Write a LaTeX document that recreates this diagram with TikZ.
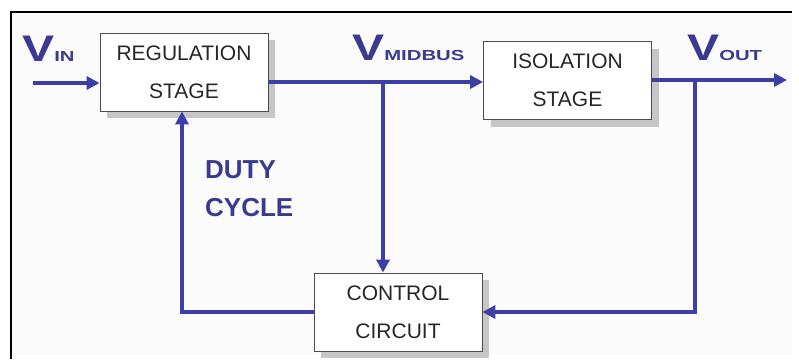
\documentclass[tikz,border=0pt]{standalone}
\usepackage{fontspec}
\setmainfont{Liberation Sans}
\usetikzlibrary{arrows.meta,shadows}

\definecolor{sigblue}{RGB}{62,62,168}
\definecolor{lblblue}{RGB}{58,58,145}
\newcommand{\sig}[1]{\scalebox{1.3}[1]{\fontsize{37}{37}\selectfont\bfseries V}\scalebox{1.4}[1]{\fontsize{14.5}{14.5}\selectfont\bfseries #1}}

\tikzset{
  stagebox/.style={draw=gray!60!black, line width=0.8pt, fill=white,
    minimum width=168pt, minimum height=78pt, inner sep=0pt, align=center,
    text=black!85, font=\fontsize{21}{38}\selectfont,
    drop shadow={shadow xshift=7pt, shadow yshift=-7pt, fill=gray!45, opacity=1}},
  sigline/.style={draw=sigblue, line width=4.5pt},
  siglabel/.style={anchor=base west, inner sep=0pt, text=lblblue},
}

\begin{document}
\begin{tikzpicture}[x=1pt, y=-1pt, >={Triangle[length=13pt,width=13pt]}]
  \useasboundingbox (0,0) rectangle (799,359);

  %% frame
  \fill[gray!3] (11,12) rectangle (792,355);
  \draw[line width=1.5pt] (10,12) -- (792,12);
  \draw[line width=1.5pt] (11,12) -- (11,359);

  %% stages
  \node[stagebox] (reg) at (184,72) {REGULATION\\STAGE};
  \node[stagebox] (iso) at (567.5,80.5) {ISOLATION\\STAGE};
  \node[stagebox] (ctrl) at (398,312) {CONTROL\\CIRCUIT};

  %% junctions and free ends
  \coordinate (inlet) at (33,83);
  \coordinate (jmid) at (383,82);
  \coordinate (jout) at (695,80);
  \coordinate (outlet) at (787,80);
  \coordinate (jduty) at (182,312);

  %% connectors
  \draw[sigline,->] (inlet) -- (inlet -| reg.west);
  \draw[sigline,->] (reg.east |- jmid) -- (iso.west |- jmid);
  \draw[sigline,->] (iso.east |- jout) -- (outlet);
  \draw[sigline,->] (jmid) -- (jmid |- ctrl.north);
  \draw[sigline,->] (jout) -- (jout |- ctrl.east) -- (ctrl.east);
  \draw[sigline,->] (ctrl.west) -- (jduty) -- (jduty |- reg.south);

  %% signal labels
  \node[siglabel] (vin) at (22,61) {\sig{IN}};
  \node[siglabel] (vmid) at (352,60) {\sig{MIDBUS}};
  \node[siglabel] (vout) at (687,60) {\sig{OUT}};
  \node[anchor=west, align=left, inner sep=0pt, text=lblblue,
    font=\fontsize{26}{38}\selectfont\bfseries] (duty) at (205,189) {DUTY\\CYCLE};
\end{tikzpicture}
\end{document}
